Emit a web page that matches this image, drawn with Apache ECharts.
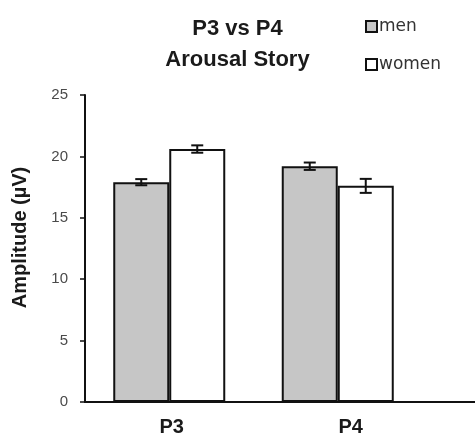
<!DOCTYPE html>
<html><head><meta charset="utf-8">
<script src="https://cdn.jsdelivr.net/npm/echarts@6/dist/echarts.min.js"></script>
<style>html,body{margin:0;padding:0;background:#fff}#c{width:475px;height:441px}</style>
</head><body><div id="c"></div>
<script>
const categories = ['P3', 'P4'];
const menValues = [17.9, 19.2];
const womenValues = [20.6, 17.6];
const menErrors = [0.25, 0.3];
const womenErrors = [0.3, 0.57];
const yTicks = [0, 5, 10, 15, 20, 25];

const BAR_W = 56;
const FONT = 'Liberation Sans, Arial, Helvetica, sans-serif';
const chart = echarts.init(document.getElementById('c'));
function errSeries(name, vals, errs, dx) {
  return {
    type: 'custom', name: name + '_err', silent: true, z: 5,
    xAxisIndex: 0, yAxisIndex: 0,
    data: vals.map((v, i) => [i, v, errs[i]]),
    renderItem: function (params, api) {
      const i = api.value(0), v = api.value(1), e = api.value(2);
      const top = api.coord([i, v + e]);
      const bot = api.coord([i, v - e]);
      const x = top[0] + dx;
      const cap = 6;
      const st = { stroke: '#111', lineWidth: 2 };
      return { type: 'group', children: [
        { type: 'line', shape: { x1: x, y1: top[1], x2: x, y2: bot[1] }, style: st },
        { type: 'line', shape: { x1: x - cap, y1: top[1], x2: x + cap, y2: top[1] }, style: st },
        { type: 'line', shape: { x1: x - cap, y1: bot[1], x2: x + cap, y2: bot[1] }, style: st }
      ]};
    }
  };
}
chart.setOption({
  animation: false,
  backgroundColor: '#fff',
  title: {
    text: 'P3 vs P4\nArousal Story', left: 'center', top: 8,
    textStyle: { fontFamily: FONT, fontWeight: 'bold', fontSize: 22, color: '#1a1a1a', lineHeight: 31 }
  },
  legend: {
    orient: 'vertical', left: 360, top: 13, itemGap: 21,
    icon: 'rect', itemWidth: 11, itemHeight: 11,
    data: ['men', 'women'],
    itemStyle: { borderColor: '#111', borderWidth: 2 },
    textStyle: { fontFamily: 'DejaVu Sans, sans-serif', fontSize: 17, color: '#333', padding: [0, 0, 0, -3] }
  },
  grid: [
    { left: 85, top: 95, bottom: 39, width: 337, containLabel: false },
    { left: 85, top: 95, bottom: 39, right: 0, containLabel: false }
  ],
  xAxis: [
    {
      type: 'category', data: categories, gridIndex: 0,
      axisLine: { lineStyle: { color: '#111', width: 2 } },
      axisTick: { show: false },
      axisLabel: {
        margin: 15,
        formatter: v => '{' + (v === 'P3' ? 'a' : 'b') + '|' + v + '}',
        rich: {
          a: { fontFamily: FONT, fontWeight: 'bold', fontSize: 20, color: '#1a1a1a', padding: [0, 0, 0, 5] },
          b: { fontFamily: FONT, fontWeight: 'bold', fontSize: 20, color: '#1a1a1a', padding: [0, 0, 0, 26] }
        }
      }
    },
    {
      type: 'value', gridIndex: 1, min: 0, max: 1,
      axisLine: { show: true, onZero: false, lineStyle: { color: '#111', width: 2 } },
      axisTick: { show: false }, axisLabel: { show: false }, splitLine: { show: false }
    }
  ],
  yAxis: [
    {
      type: 'value', gridIndex: 0, min: yTicks[0], max: yTicks[yTicks.length - 1], interval: 5,
      name: 'Amplitude (µV)', nameLocation: 'middle', nameGap: 55, nameRotate: 90,
      nameTextStyle: { fontFamily: FONT, fontWeight: 'bold', fontSize: 20, color: '#1a1a1a', padding: [0, 0, 0, 22] },
      axisLine: { show: true, lineStyle: { color: '#111', width: 2 } },
      axisTick: { show: true, length: 5, lineStyle: { color: '#111', width: 1.5 } },
      axisLabel: { margin: 17, fontFamily: FONT, fontSize: 15, color: '#4a4a4a' },
      splitLine: { show: false }
    },
    {
      type: 'value', gridIndex: 1, min: 0, max: 1, show: false
    }
  ],
  series: [
    { name: 'men', type: 'bar', data: menValues, barWidth: BAR_W, barGap: '0%',
      itemStyle: { color: '#c6c6c6', borderColor: '#111', borderWidth: 2 } },
    { name: 'women', type: 'bar', data: womenValues, barWidth: BAR_W, barGap: '0%',
      itemStyle: { color: '#ffffff', borderColor: '#111', borderWidth: 2 } },
    errSeries('men', menValues, menErrors, -BAR_W / 2),
    errSeries('women', womenValues, womenErrors, BAR_W / 2)
  ]
});
</script></body></html>
